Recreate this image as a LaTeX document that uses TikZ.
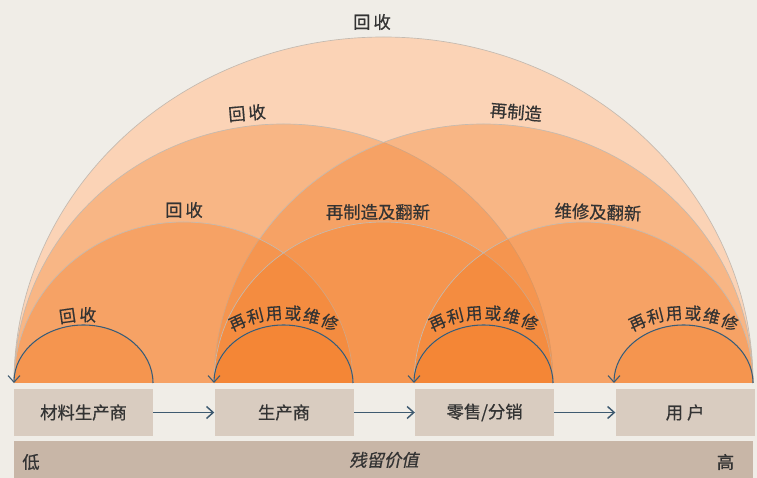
\documentclass[tikz,border=0pt]{standalone}
\usepackage{fontspec}
\newfontfamily\cjk[FakeBold=0.6]{Noto Sans CJK SC}
\newfontfamily\cjkslant[FakeSlant=0.2,FakeBold=0.6]{Noto Sans CJK SC}
\usetikzlibrary{arrows.meta,positioning,decorations.text}
\definecolor{bgbeige}{RGB}{240,237,231}
\definecolor{peach}{RGB}{244,124,36}
\definecolor{boxfill}{RGB}{217,204,192}
\definecolor{barfill}{RGB}{200,182,167}
\definecolor{slate}{RGB}{62,90,112}
\definecolor{inkgray}{RGB}{51,51,51}
\definecolor{rimgray}{RGB}{196,186,176}
\newcommand{\lbl}{\cjk\fontsize{12.5}{15}\selectfont\color{inkgray}}

\begin{document}
\begin{tikzpicture}[
    x=0.75pt, y=0.75pt,
    font=\cjk\fontsize{13}{15}\selectfont, text=inkgray,
    box/.style={rectangle, fill=boxfill, minimum width=104.25pt, minimum height=35.25pt, inner sep=0pt},
    bar/.style={rectangle, fill=barfill, minimum width=554.25pt, minimum height=27.75pt, inner sep=0pt},
    layer/.style={fill=peach, fill opacity=0.33, draw=rimgray, line width=0.5pt},
    arrow/.style={-{Straight Barb[length=5pt, width=9pt]}, draw=slate, line width=1.1pt},
    backarc/.style={-{Straight Barb[length=5pt, width=9pt]}, draw=slate, line width=0.8pt}
]
    \fill[bgbeige] (0,0) rectangle (757,478);
    \useasboundingbox (0,0) rectangle (757,478);

    % feet of the arcs
    \coordinate (f1) at (83.5,95);
    \coordinate (f2) at (283.5,95);
    \coordinate (f3) at (483.5,95);
    \coordinate (f4) at (683.5,95);

    % outer ring
    \fill[white] (14,95) arc[start angle=180, end angle=0, x radius=369.5, y radius=346];
    \filldraw[layer] (14,95) arc[start angle=180, end angle=0, x radius=369.5, y radius=346];
    % second ring
    \filldraw[layer] (14,95) arc[start angle=180, end angle=0, x radius=269.5, y radius=259];
    \filldraw[layer] (214,95) arc[start angle=180, end angle=0, x radius=269.5, y radius=259];
    % third ring
    \filldraw[layer] (14,95) arc[start angle=180, end angle=0, x radius=169.5, y radius=161];
    \filldraw[layer] (214,95) arc[start angle=180, end angle=0, x radius=169.5, y radius=161];
    \filldraw[layer] (414,95) arc[start angle=180, end angle=0, x radius=169.5, y radius=161];
    % inner ring
    \fill[layer] (14,95) arc[start angle=180, end angle=0, x radius=69.5, y radius=58];
    \fill[layer] (214,95) arc[start angle=180, end angle=0, x radius=69.5, y radius=58];
    \fill[layer] (414,95) arc[start angle=180, end angle=0, x radius=69.5, y radius=58];
    \fill[layer] (614,95) arc[start angle=180, end angle=0, x radius=69.5, y radius=58];

    \draw[backarc] (153,95) arc[start angle=0, end angle=180, x radius=69.5, y radius=58];
    \draw[backarc] (353,95) arc[start angle=0, end angle=180, x radius=69.5, y radius=58];
    \draw[backarc] (553,95) arc[start angle=0, end angle=180, x radius=69.5, y radius=58];
    \draw[backarc] (753,95) arc[start angle=0, end angle=180, x radius=69.5, y radius=58];

    % ring labels
    \node (top) at (372,456) {回\,收};
    \node[rotate=5] (back2) at (247,365) {回\,收};
    \node[rotate=-5] (reman) at (516,366) {再制造};
    \node (back3) at (184,268) {回\,收};
    \node (remref) at (378,266) {再制造及翻新};
    \node[rotate=-2] (repref) at (598,266) {维修及翻新};

    \path[shift={(f1)}, decorate, decoration={text along path, text align=center,
        text={|\lbl|回{\kern2pt}收}}] (170:82 and 62) arc[start angle=170, end angle=20, x radius=82, y radius=62];
    \path[shift={(f2)}, decorate, decoration={text along path, text align=center,
        text={|\lbl|再{\kern1pt}利{\kern1pt}用{\kern1pt}或{\kern1pt}维{\kern1pt}修}}] (165:85 and 64) arc[start angle=165, end angle=15, x radius=85, y radius=64];
    \path[shift={(f3)}, decorate, decoration={text along path, text align=center,
        text={|\lbl|再{\kern1pt}利{\kern1pt}用{\kern1pt}或{\kern1pt}维{\kern1pt}修}}] (165:85 and 64) arc[start angle=165, end angle=15, x radius=85, y radius=64];
    \path[shift={(f4)}, decorate, decoration={text along path, text align=center,
        text={|\lbl|再{\kern1pt}利{\kern1pt}用{\kern1pt}或{\kern1pt}维{\kern1pt}修}}] (165:85 and 64) arc[start angle=165, end angle=15, x radius=85, y radius=64];

    % chain
    \node[box] (mat) at (83.5,65.5) {材料生产商};
    \node[box, right=45.75pt of mat] (maker) {生产商};
    \node[box, right=45.75pt of maker] (retail) {零售/分销};
    \node[box, right=45.75pt of retail] (user) {用\hspace{3pt}户};

    \draw[arrow] (mat) -- (maker);
    \draw[arrow] (maker) -- (retail);
    \draw[arrow] (retail) -- (user);

    \node[bar] (scale) at (383.5,18.5) {};
    \node (low) at (31,16) {低};
    \node (high) at (725.5,16) {高};
    \node[font=\cjkslant\fontsize{13}{15}\selectfont] (value) at (384,18) {残留价值};
\end{tikzpicture}
\end{document}
